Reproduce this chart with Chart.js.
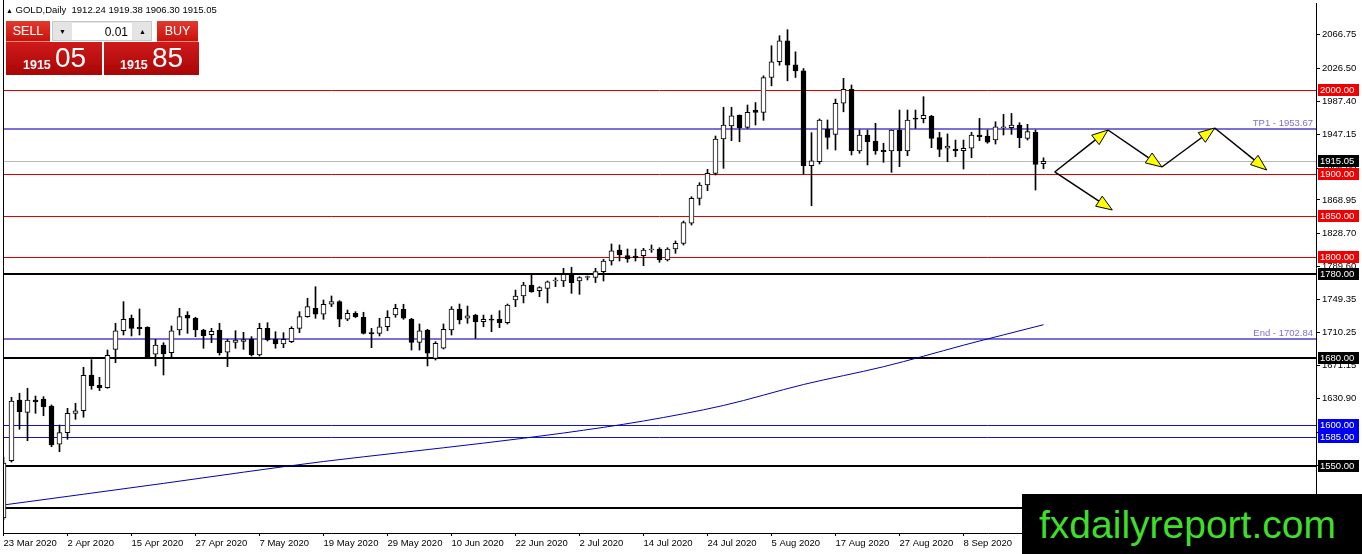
<!DOCTYPE html>
<html>
<head>
<meta charset="utf-8">
<script src="https://cdn.jsdelivr.net/npm/chart.js@4.4.1/dist/chart.umd.min.js"></script>
<style>
html,body{margin:0;padding:0;background:#fff;}
#wrap{position:relative;width:1362px;height:554px;overflow:hidden;font-family:"Liberation Sans",Arial,sans-serif;}
#c{position:absolute;left:0;top:0;}
.hdr{position:absolute;left:6px;top:4px;font-size:9.5px;line-height:11px;color:#000;white-space:pre;}
.btn{position:absolute;background:linear-gradient(#e23a30,#c8120c);color:#fff;font-size:12.5px;line-height:20px;text-align:center;border-bottom:1px solid #f08a80;}
.spin{position:absolute;background:#e4e4e4;border:1px solid #c8c8c8;box-sizing:border-box;}
.spin .f{position:absolute;left:19px;top:1px;width:60px;height:17px;background:#fff;font-size:12px;line-height:18px;text-align:right;color:#000;box-sizing:border-box;padding-right:4px;}
.spin .a{position:absolute;top:0;font-size:7px;line-height:19px;color:#000;width:19px;text-align:center;}
.big{position:absolute;background:linear-gradient(#cf1a1a,#a90606);color:#fff;}
.big .s{position:absolute;font-weight:bold;font-size:12.5px;line-height:12.5px;top:17px;}
.big .b{position:absolute;font-size:28px;line-height:28px;top:2px;}
#wm{position:absolute;left:1022px;top:494px;width:340px;height:60px;background:#000;}
#wm span{position:absolute;left:17px;top:11px;font-size:39px;line-height:39px;color:#3ede2a;font-family:"Liberation Sans",Arial,sans-serif;white-space:nowrap;}
</style>
</head>
<body>
<div id="wrap">
<canvas id="c" width="1362" height="554"></canvas>
<div class="hdr"><span style="font-size:7px">▲</span> GOLD,Daily  1912.24 1919.38 1906.30 1915.05</div>
<div class="btn" style="left:6px;top:21px;width:44px;height:20px;">SELL</div>
<div class="spin" style="left:52px;top:21px;width:100px;height:20px;">
  <div class="a" style="left:0;">▼</div>
  <div class="f">0.01</div>
  <div class="a" style="left:80px;">▲</div>
</div>
<div class="btn" style="left:157px;top:21px;width:41px;height:20px;">BUY</div>
<div class="big" style="left:6px;top:42px;width:96px;height:33px;"><span class="s" style="left:17px;">1915</span><span class="b" style="left:49px;">05</span></div>
<div class="big" style="left:104px;top:42px;width:95px;height:33px;"><span class="s" style="left:16px;">1915</span><span class="b" style="left:48px;">85</span></div>
<div id="wm"><span>fxdailyreport.com</span></div>
</div>
<script>
// ---------- DATA ----------
const tickIndex = [0, 8, 16, 24, 32, 40, 48, 56, 64, 72, 80, 88, 96, 104, 112, 120];
const tickLabels = ['23 Mar 2020','2 Apr 2020','15 Apr 2020','27 Apr 2020','7 May 2020','19 May 2020','29 May 2020','10 Jun 2020','22 Jun 2020','2 Jul 2020','14 Jul 2020','24 Jul 2020','5 Aug 2020','17 Aug 2020','27 Aug 2020','8 Sep 2020'];
const yTickValues = [2066.75, 2026.50, 1987.40, 1947.15, 1906.90, 1868.95, 1828.70, 1789.60, 1749.35, 1710.25, 1671.15, 1630.90, 1590.65, 1550.55, 1510.45];

const opens = [1488.0,1556.7,1629.3,1614.6,1629.3,1630.5,1622.2,1576.3,1590.2,1613.4,
1616.5,1659.3,1646.9,1644.0,1690.0,1712.3,1727.2,1716.4,1716.4,1684.1,
1695.2,1686.0,1713.2,1731.1,1727.2,1713.2,1707.6,1713.2,1686.5,1698.4,
1699.6,1702.4,1683.2,1715.2,1702.0,1696.4,1699.2,1715.2,1729.1,1739.2,
1732.0,1744.0,1747.1,1726.0,1733.2,1728.4,1710.0,1709.2,1717.1,1731.1,
1738.0,1726.0,1698.4,1713.2,1679.2,1691.3,1713.2,1738.3,1727.2,1731.1,
1723.1,1725.5,1726.0,1721.9,1749.1,1753.9,1767.1,1760.3,1763.0,1771.9,
1772.0,1779.9,1772.0,1776.0,1776.0,1783.0,1795.8,1809.0,1802.2,1801.8,
1802.2,1809.0,1810.2,1797.0,1810.2,1817.0,1841.0,1870.9,1886.8,1900.8,
1941.9,1957.5,1970.7,1955.9,1976.5,1973.7,2015.6,2034.4,2059.6,2030.7,
2023.5,1909.9,1914.7,1953.5,1947.5,1984.7,2001.5,1927.5,1946.7,1939.5,
1928.7,1927.5,1952.7,1927.5,1967.0,1966.4,1969.1,1943.5,1930.8,1929.9,
1927.9,1930.8,1946.7,1945.5,1940.7,1955.4,1955.4,1958.7,1942.7,1949.9,
1912.24];
const highs = [1561.0,1632.6,1637.4,1643.4,1634.1,1633.3,1623.4,1599.4,1619.4,1625.4,
1668.5,1677.7,1656.5,1689.2,1721.2,1747.1,1731.1,1738.3,1717.1,1702.0,
1698.0,1718.0,1739.2,1735.1,1728.4,1714.0,1715.2,1721.2,1702.0,1712.3,
1710.4,1705.2,1721.2,1721.9,1711.1,1710.0,1717.1,1735.1,1751.1,1765.0,
1749.1,1753.9,1748.3,1737.1,1735.1,1734.4,1715.2,1727.2,1736.3,1744.0,
1744.0,1727.2,1720.4,1714.0,1699.2,1720.4,1741.1,1744.3,1741.9,1732.0,
1731.1,1731.1,1736.3,1744.3,1761.0,1770.3,1779.9,1765.1,1771.9,1775.8,
1787.1,1788.3,1777.0,1777.8,1787.1,1797.8,1816.2,1815.0,1810.2,1810.2,
1811.0,1815.0,1811.7,1811.7,1819.8,1843.7,1872.8,1889.6,1905.6,1945.5,
1979.9,1979.9,1970.7,1982.6,1985.6,2017.6,2053.6,2065.6,2072.8,2046.3,
2026.3,1949.5,1965.9,1964.7,1989.8,2014.6,2006.6,1952.7,1952.7,1960.7,
1936.8,1952.7,1976.6,1976.6,1976.6,1992.6,1970.3,1950.0,1948.0,1940.7,
1940.7,1950.0,1966.6,1952.7,1962.6,1971.4,1972.6,1961.4,1959.5,1952.7,
1919.38];
const lows = [1485.6,1555.0,1594.3,1580.6,1613.4,1610.5,1573.4,1567.4,1582.3,1606.2,
1608.7,1642.2,1640.6,1643.4,1674.0,1707.2,1706.0,1707.2,1679.2,1670.1,
1659.3,1679.2,1707.2,1709.2,1705.2,1691.3,1698.0,1683.2,1669.3,1691.3,
1690.0,1682.0,1682.0,1700.0,1691.3,1692.0,1698.0,1710.0,1728.4,1727.2,
1726.0,1741.1,1717.1,1724.3,1728.0,1708.4,1692.0,1706.0,1712.3,1728.4,
1726.0,1689.2,1689.2,1670.1,1677.2,1690.4,1707.2,1720.4,1721.2,1703.2,
1717.1,1711.1,1716.0,1720.4,1741.1,1745.6,1758.3,1753.1,1745.6,1765.1,
1765.1,1757.1,1755.9,1773.1,1770.0,1771.9,1791.0,1795.8,1794.3,1795.8,
1790.2,1806.2,1794.3,1795.8,1805.0,1815.0,1838.9,1862.9,1880.0,1898.8,
1906.8,1939.9,1938.7,1954.7,1958.7,1964.3,2005.6,2030.3,2011.6,2015.6,
1900.0,1862.0,1912.0,1929.9,1928.7,1974.5,1922.8,1924.8,1910.8,1923.6,
1914.0,1902.0,1908.8,1921.9,1954.7,1961.2,1931.5,1920.8,1914.7,1920.8,
1906.0,1919.5,1939.9,1936.8,1935.9,1946.7,1947.5,1931.5,1940.7,1880.8,
1906.30];
const closes = [1553.9,1628.1,1615.3,1629.3,1627.0,1621.3,1575.5,1590.2,1613.4,1616.5,
1658.9,1646.5,1644.0,1682.9,1712.3,1726.0,1715.2,1714.7,1680.0,1695.2,
1684.4,1712.3,1729.1,1727.2,1713.2,1706.4,1711.6,1686.0,1700.0,1701.2,
1701.6,1683.2,1715.2,1701.2,1696.4,1702.0,1715.2,1729.1,1741.1,1732.0,
1744.0,1747.1,1726.0,1733.2,1729.1,1709.2,1708.4,1717.1,1728.4,1739.2,
1727.2,1698.4,1712.3,1685.3,1697.2,1714.0,1738.3,1725.1,1730.0,1723.1,
1726.0,1725.0,1721.9,1743.1,1753.9,1767.1,1759.1,1763.9,1771.0,1773.1,
1779.9,1769.8,1776.0,1776.6,1783.0,1795.8,1808.1,1803.0,1798.2,1799.8,
1809.0,1810.2,1797.0,1810.2,1817.0,1841.7,1870.9,1886.8,1900.8,1941.9,
1958.7,1969.8,1955.4,1973.9,1973.7,2015.6,2034.4,2059.6,2030.3,2023.5,
1909.9,1915.9,1964.7,1943.9,1984.7,2001.5,1927.9,1946.7,1938.7,1927.5,
1926.7,1952.7,1927.5,1964.7,1965.6,1970.3,1942.7,1929.5,1933.5,1927.9,
1930.8,1946.7,1944.7,1938.0,1956.6,1956.6,1958.7,1943.5,1950.7,1911.6,
1915.05];

// moving average (read at sample bars)
const maIndex  = [0, 10, 20, 30, 40, 50, 60, 70, 80, 90, 100, 110, 115, 120, 125, 130];
const maValues = [1503.6,1516.5,1529.5,1542.9,1555.7,1566.7,1577.7,1589.8,1604.2,1622.8,1647.9,1669.2,1681.8,1695.0,1707.3,1719.5];

// horizontal levels
const levelPrices = [2000, 1953.67, 1915.05, 1900, 1850, 1800, 1780, 1702.84, 1680, 1600, 1585, 1550, 1500];
const levelNames  = ['', 'TP1', '', '', '', '', '', 'End', '', '', '', '', ''];

// projection arrows (bar index, price)
const arrowX1 = [131.4, 138.06, 144.8, 151.4, 131.4];
const arrowY1 = [1902.4, 1952.7, 1908.4, 1955.1, 1902.4];
const arrowX2 = [138.06, 144.8, 151.4, 157.9, 138.6];
const arrowY2 = [1952.7, 1908.4, 1955.1, 1904.8, 1856.9];

// ---------- STYLES ----------
const levelColor = ['#e00000','#7b6fd8','#b8b8b8','#e00000','#e00000','#e00000','#000000','#7b6fd8','#000000','#1515c0','#1515c0','#000000','#000000'];
const levelWidth = [1,2,1,1,1,1,2,2,2,1,1,2,2];
const boxColor   = ['#f00000',null,'#000000','#f00000','#f00000','#f00000','#000000',null,'#000000','#0000f0','#0000f0','#000000','#000000'];
const FONT = {family:'"Liberation Sans", Arial, sans-serif', size:9.5};

const overlay = {
  id: 'overlay',
  beforeDatasetsDraw(chart) {
    const {ctx, chartArea: a, scales: {y}} = chart;
    ctx.save();
    ctx.beginPath(); ctx.rect(a.left, a.top, a.right - a.left, a.bottom - a.top); ctx.clip();
    levelPrices.forEach((p, i) => {
      const py = y.getPixelForValue(p);
      const w = levelWidth[i];
      const yy = w % 2 ? Math.round(py) + 0.5 : Math.round(py);
      ctx.strokeStyle = levelColor[i]; ctx.lineWidth = w;
      ctx.beginPath(); ctx.moveTo(a.left, yy); ctx.lineTo(a.right, yy); ctx.stroke();
    });
    ctx.restore();
  },
  afterDraw(chart) {
    const {ctx, chartArea: a, scales: {x, y}} = chart;
    ctx.save();
    // left frame
    ctx.strokeStyle = '#000'; ctx.lineWidth = 1;
    ctx.beginPath(); ctx.moveTo(a.left + 0.5, 0); ctx.lineTo(a.left + 0.5, a.bottom); ctx.stroke();
    // level names
    ctx.font = '9.5px "Liberation Sans", Arial, sans-serif';
    ctx.textAlign = 'right'; ctx.textBaseline = 'alphabetic';
    levelPrices.forEach((p, i) => {
      if (!levelNames[i]) return;
      const py = y.getPixelForValue(p);
      ctx.fillStyle = levelColor[i];
      ctx.fillText(levelNames[i] + ' - ' + p.toFixed(2), a.right - 3, py - 3);
    });
    // arrows
    ctx.save();
    ctx.beginPath(); ctx.rect(a.left, a.top, a.right - a.left, a.bottom - a.top); ctx.clip();
    arrowX1.forEach((_, i) => {
      const x1 = x.getPixelForValue(arrowX1[i]), y1 = y.getPixelForValue(arrowY1[i]);
      const x2 = x.getPixelForValue(arrowX2[i]), y2 = y.getPixelForValue(arrowY2[i]);
      const len = Math.hypot(x2 - x1, y2 - y1);
      const dx = (x2 - x1) / len, dy = (y2 - y1) / len;
      const L = 16, H = 6;
      const bx = x2 - dx * L, by = y2 - dy * L;
      ctx.strokeStyle = '#000'; ctx.lineWidth = 1.5;
      ctx.beginPath(); ctx.moveTo(x1, y1); ctx.lineTo(bx, by); ctx.stroke();
      ctx.beginPath();
      ctx.moveTo(x2, y2);
      ctx.lineTo(bx - dy * H, by + dx * H);
      ctx.lineTo(bx + dy * H, by - dx * H);
      ctx.closePath();
      ctx.fillStyle = '#ffff00'; ctx.fill();
      ctx.lineWidth = 1; ctx.stroke();
    });
    ctx.restore();
    // price boxes on the axis
    ctx.textAlign = 'left'; ctx.textBaseline = 'middle';
    levelPrices.forEach((p, i) => {
      if (!boxColor[i]) return;
      const py = Math.round(y.getPixelForValue(p));
      ctx.fillStyle = boxColor[i];
      ctx.fillRect(a.right + 2, py - 6, 41, 12);
      ctx.fillStyle = '#fff';
      ctx.fillText(p.toFixed(2), a.right + 4, py + 0.5);
    });
    ctx.restore();
  }
};

const idx = opens.map((_, i) => i);

new Chart(document.getElementById('c'), {
  type: 'bar',
  data: {
    labels: idx,
    datasets: [
      {
        label: 'body',
        data: opens.map((o, i) => [o, closes[i]]),
        backgroundColor: opens.map((o, i) => closes[i] >= o ? '#ffffff' : '#000000'),
        borderColor: '#000000', borderWidth: 1, borderSkipped: false,
        barThickness: 5, grouped: false, minBarLength: 1, order: 1
      },
      {
        label: 'wick',
        data: lows.map((l, i) => [l, highs[i]]),
        backgroundColor: '#000000', borderWidth: 0,
        barThickness: 1, grouped: false, order: 2
      },
      {
        type: 'line', label: 'MA',
        data: maIndex.map((v, i) => ({x: v, y: maValues[i]})),
        borderColor: '#0000b4', borderWidth: 1, pointRadius: 0,
        cubicInterpolationMode: 'monotone', fill: false, order: 3
      }
    ]
  },
  options: {
    responsive: false, animation: false, events: [],
    layout: {padding: {left: 3, top: 3, right: 0, bottom: 0}},
    plugins: {legend: {display: false}, tooltip: {enabled: false}},
    scales: {
      x: {
        type: 'linear', min: -0.0625, max: 164.0625, offset: false,
        grid: {display: true, drawOnChartArea: false, drawTicks: true, tickLength: 3, color: '#000', offset: false},
        border: {display: true, color: '#000', width: 1},
        afterBuildTicks: s => { s.ticks = tickIndex.map(v => ({value: v})); },
        afterFit: s => { s.height = 21; s.paddingLeft = 0; s.paddingRight = 0; },
        ticks: {
          autoSkip: false, maxRotation: 0, align: 'start', padding: 2, color: '#000', font: FONT,
          callback: v => tickLabels[tickIndex.indexOf(v)]
        }
      },
      y: {
        type: 'linear', position: 'right', min: 1470.06, max: 2104.79,
        grid: {display: true, drawOnChartArea: false, drawTicks: true, tickLength: 4, color: '#000'},
        border: {display: true, color: '#000', width: 1},
        afterBuildTicks: s => { s.ticks = yTickValues.map(v => ({value: v})); },
        afterFit: s => { s.width = 46; s.paddingTop = 0; s.paddingBottom = 0; },
        ticks: {autoSkip: false, padding: 2, color: '#000', font: FONT, callback: v => v.toFixed(2)}
      }
    }
  },
  plugins: [overlay]
});
</script>
</body>
</html>
